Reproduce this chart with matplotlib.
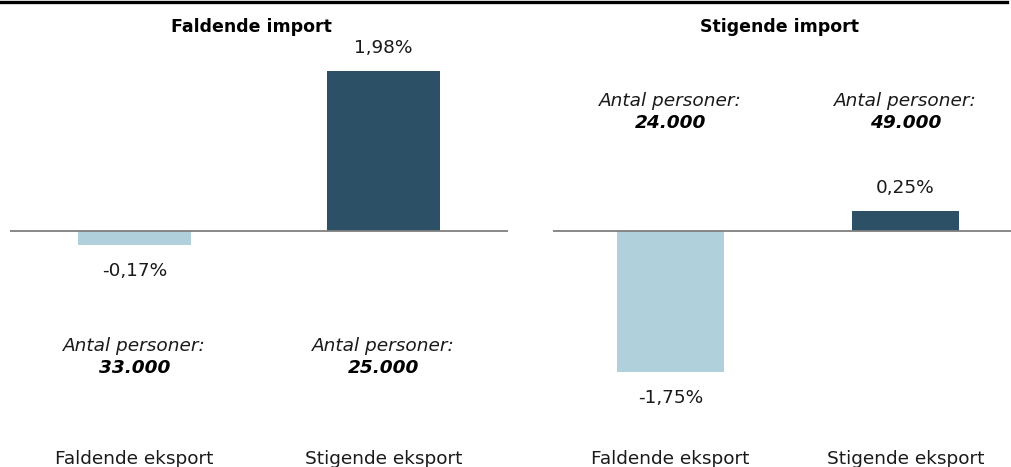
#!/usr/bin/env python3
"""Bar chart: change by import/export direction, two panels."""

import matplotlib.pyplot as plt
from matplotlib.lines import Line2D

# ------------------------------------------------------------------
# Data
# ------------------------------------------------------------------
CATEGORIES = ["Faldende eksport", "Stigende eksport"]
PANEL_TITLES = ["Faldende import", "Stigende import"]
VALUES_FALDENDE_IMPORT = [-0.17, 1.98]
VALUES_STIGENDE_IMPORT = [-1.75, 0.25]
PERSONS_FALDENDE_IMPORT = ["33.000", "25.000"]
PERSONS_STIGENDE_IMPORT = ["24.000", "49.000"]

LIGHT = "#B0D0DC"
DARK = "#2C5066"
ZERO_LINE = "#7F7F7F"
INK = "#1A1A1A"

W, H = 1011, 467
DPI = 100
PX_PER_PCT = 80.8
ZERO_Y = 231      # pixels from top
AX_BOTTOM = 440   # pixels from top


def fmt(v):
    return f"{v:.2f}%".replace(".", ",")


def render_panel(ax, values, persons, persons_y, title, title_x):
    ax.set_xlim(-0.5, 1.5)
    ax.set_ylim(-(AX_BOTTOM - ZERO_Y) / PX_PER_PCT, ZERO_Y / PX_PER_PCT)
    colors = [LIGHT, DARK]
    ax.bar(range(len(values)), values, width=0.455, color=colors, zorder=2)
    ax.axhline(0, color=ZERO_LINE, lw=1.3, zorder=3)

    for i, v in enumerate(values):
        off = 16.5 if v > 0 else -18.7
        ax.annotate(fmt(v), (i, v), xytext=(0, off), textcoords="offset points",
                    ha="center", va="center", fontsize=13.3, color=INK)
        ax.text(i, persons_y, "Antal personer:", ha="center", va="center",
                fontsize=13.3, style="italic", color=INK)
        ax.text(i, persons_y - 22 / PX_PER_PCT, persons[i], ha="center",
                va="center", fontsize=13.3, style="italic",
                fontweight="bold", color="black")

    ax.set_xticks(range(len(CATEGORIES)))
    ax.set_xticklabels(CATEGORIES, fontsize=13.3, color=INK)
    ax.tick_params(axis="x", length=0, pad=7.2)
    ax.set_yticks([])
    for s in ax.spines.values():
        s.set_visible(False)

    ax.figure.text(title_x / W, 1 - 26.5 / H, title, ha="center", va="center",
                   fontsize=12.5, fontweight="bold", color="black")


def main():
    plt.rcParams.update({"font.family": "DejaVu Sans"})
    fig = plt.figure(figsize=(W / DPI, H / DPI), dpi=DPI, facecolor="white")

    bottom = 1 - AX_BOTTOM / H
    height = AX_BOTTOM / H
    ax1 = fig.add_axes([10 / W, bottom, 498 / W, height])
    ax2 = fig.add_axes([553 / W, bottom, 470 / W, height])
    for ax in (ax1, ax2):
        ax.set_facecolor("none")

    render_panel(ax1, VALUES_FALDENDE_IMPORT, PERSONS_FALDENDE_IMPORT,
                 (ZERO_Y - 346) / PX_PER_PCT, PANEL_TITLES[0], 251)
    render_panel(ax2, VALUES_STIGENDE_IMPORT, PERSONS_STIGENDE_IMPORT,
                 (ZERO_Y - 101) / PX_PER_PCT, PANEL_TITLES[1], 780)

    # thick rule at the very top
    fig.add_artist(Line2D([0, 1007 / W], [1 - 1.5 / H, 1 - 1.5 / H],
                          color="black", lw=2.4, transform=fig.transFigure))

    fig.savefig("out.png", dpi=DPI, facecolor="white")


if __name__ == "__main__":
    main()
